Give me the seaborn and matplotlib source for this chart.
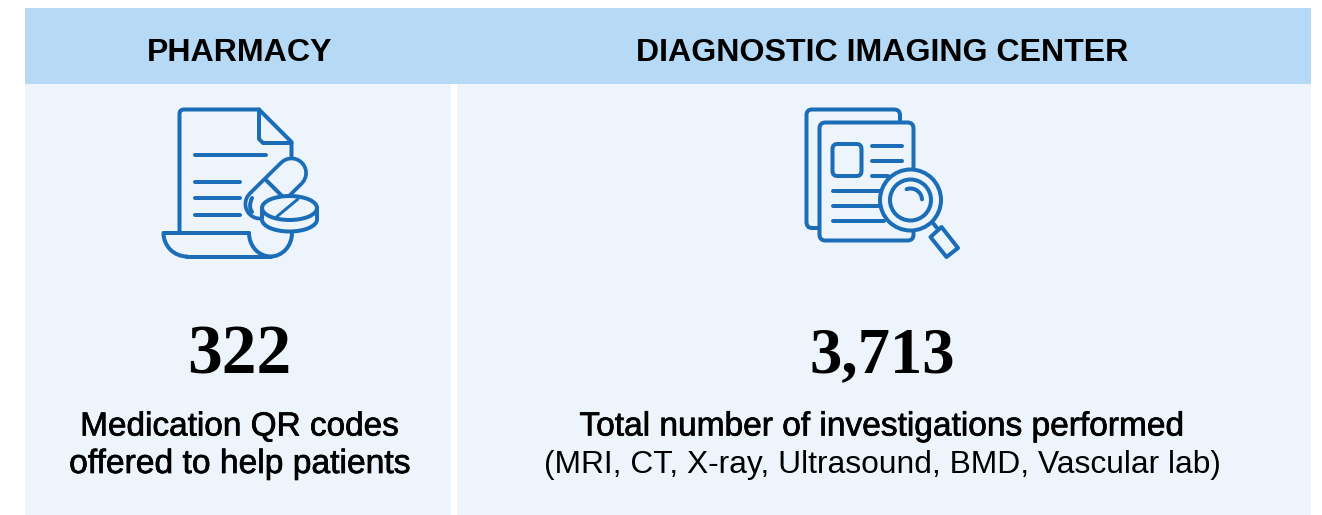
import matplotlib
matplotlib.use("Agg")
import seaborn as sns
import matplotlib.pyplot as plt
import matplotlib.patheffects as pe
from matplotlib.patches import Rectangle, Ellipse, FancyBboxPatch, Circle, Arc, PathPatch, Polygon
from matplotlib.path import Path

headers = ["PHARMACY", "DIAGNOSTIC IMAGING CENTER"]
values = ["322", "3,713"]
captions = [["Medication QR codes", "offered to help patients"],
            ["Total number of investigations performed"]]
sub_caption = "(MRI, CT, X-ray, Ultrasound, BMD, Vascular lab)"

HEAD = "#B6DAF5"
BODY = "#EDF4FC"
BLUE = "#1B6DB8"
LW = 4 * 0.72   # 4 px stroke

sns.set_theme(style="white")
plt.rcParams["font.family"] = ["Liberation Sans", "DejaVu Sans"]

fig = plt.figure(figsize=(13.22, 5.15), dpi=100)
ax = fig.add_axes([0, 0, 1, 1])
ax.set_xlim(0, 1322)
ax.set_ylim(515, 0)
ax.axis("off")
sns.despine(ax=ax, left=True, bottom=True)


def line(pts, lw=LW, color=BLUE, z=3):
    xs, ys = zip(*pts)
    ax.plot(xs, ys, color=color, lw=lw, solid_capstyle="round", solid_joinstyle="round", zorder=z)


def curve(verts, codes, z=3):
    ax.add_patch(PathPatch(Path(verts, codes), fc="none", ec=BLUE, lw=LW, capstyle="round",
                           joinstyle="round", zorder=z))


def arc(xy, w, h, t1, t2, z=3):
    ax.add_patch(Arc(xy, w, h, theta1=t1, theta2=t2, ec=BLUE, lw=LW, capstyle="round", zorder=z))


# panels
ax.add_patch(Rectangle((25, 84), 426, 431, fc=BODY, ec="none"))
ax.add_patch(Rectangle((457, 84), 854, 431, fc=BODY, ec="none"))
ax.add_patch(Rectangle((25, 8), 1286, 76, fc=HEAD, ec="none"))

# pharmacy icon: page
M, L, C = Path.MOVETO, Path.LINETO, Path.CURVE3
curve([(179.5, 233), (179.5, 114), (179.5, 109.5), (184, 109.5), (259, 109.5), (291.5, 142), (291.5, 156)],
      [M, L, C, C, L, L, L])
line([(259, 109.5), (259, 139), (263, 143), (291.5, 143)])
for y, x1 in [(155, 266), (181.5, 240), (198, 240), (214.5, 240)]:
    line([(195, y), (x1, y)])
# scroll at the bottom
line([(187, 256.5), (270.5, 256.5)])
line([(163.5, 233), (249, 233)])
arc((187, 233), 47, 47, 90, 180)
arc((270.5, 233), 43, 47, 0, 180)
# capsule
line([(260, 204), (291.5, 173)], lw=33 * 0.72, z=4)
line([(260, 204), (291.5, 173)], lw=25.5 * 0.72, color=BODY, z=5)
line([(266, 180), (283, 197)], z=6)
curve([(252, 198), (248, 207), (252, 212)], [M, C, C], z=6)
# tablet
ax.add_patch(Ellipse((289.5, 219.5), 55, 24, fc=BODY, ec=BLUE, lw=LW, zorder=7))
ax.add_patch(Rectangle((262, 208), 55, 11.5, fc=BODY, ec="none", zorder=7))
line([(262, 208), (262, 219)], z=8)
line([(317, 208), (317, 219)], z=8)
ax.add_patch(Ellipse((289.5, 208), 55, 24, fc=BODY, ec=BLUE, lw=LW, zorder=8))
line([(277, 216.5), (298, 199)], lw=3 * 0.72, z=9)

# imaging icon: back and front sheets
curve([(818, 228), (812, 228), (806.5, 228), (806.5, 222), (806.5, 115), (806.5, 109.5), (812, 109.5),
       (894, 109.5), (900, 109.5), (900, 115), (900, 122)],
      [M, L, C, C, L, C, C, L, C, C, L])
ax.add_patch(FancyBboxPatch((825.5, 128.5), 82, 106, boxstyle="round,pad=6,rounding_size=6",
                            fc=BODY, ec=BLUE, lw=LW, zorder=3))
ax.add_patch(FancyBboxPatch((837.5, 149), 19, 22, boxstyle="round,pad=5,rounding_size=5",
                            fc="none", ec=BLUE, lw=LW, zorder=4))
for y, x1 in [(145.5, 902), (160.5, 902), (176, 888), (191, 884), (206, 884), (221, 884)]:
    x0 = 871.5 if y < 180 else 832.5
    line([(x0, y), (x1, y)], z=4)
# magnifier
ax.add_patch(Circle((910.5, 200), 30.5, fc=BODY, ec=BLUE, lw=LW, zorder=5))
ax.add_patch(Circle((910.5, 200), 20.5, fc=BODY, ec=BLUE, lw=LW, zorder=6))
arc((910.5, 200), 23, 23, -110, -3, z=7)
line([(933, 223), (937, 228)], z=4)
ax.add_patch(Polygon([(941.5, 227), (958, 248), (946.5, 257), (930.5, 237)], closed=True, fc=BODY, ec=BLUE,
                     lw=LW, joinstyle="round", zorder=5))

# text
semi = [pe.withStroke(linewidth=0.5, foreground="black")]
ax.text(239.5, 53, headers[0], ha="center", va="center", fontsize=23.1, fontweight="bold", color="black")
ax.text(882, 53, headers[1], ha="center", va="center", fontsize=23.1, fontweight="bold", color="black")
ax.text(239.5, 356, values[0], ha="center", va="center", fontsize=50, fontweight="bold",
        family="Liberation Serif", color="black")
ax.text(882, 356, values[1], ha="center", va="center", fontsize=46.5, fontweight="bold",
        family="Liberation Serif", color="black")
ax.text(239.5, 427, captions[0][0], ha="center", va="center", fontsize=24, color="black", path_effects=semi)
ax.text(239.5, 464.5, captions[0][1], ha="center", va="center", fontsize=24.2, color="black", path_effects=semi)
ax.text(882, 427, captions[1][0], ha="center", va="center", fontsize=24.1, color="black", path_effects=semi)
ax.text(882, 465, sub_caption, ha="center", va="center", fontsize=22.9, color="black")

fig.savefig("out.png", dpi=100, facecolor="white")
